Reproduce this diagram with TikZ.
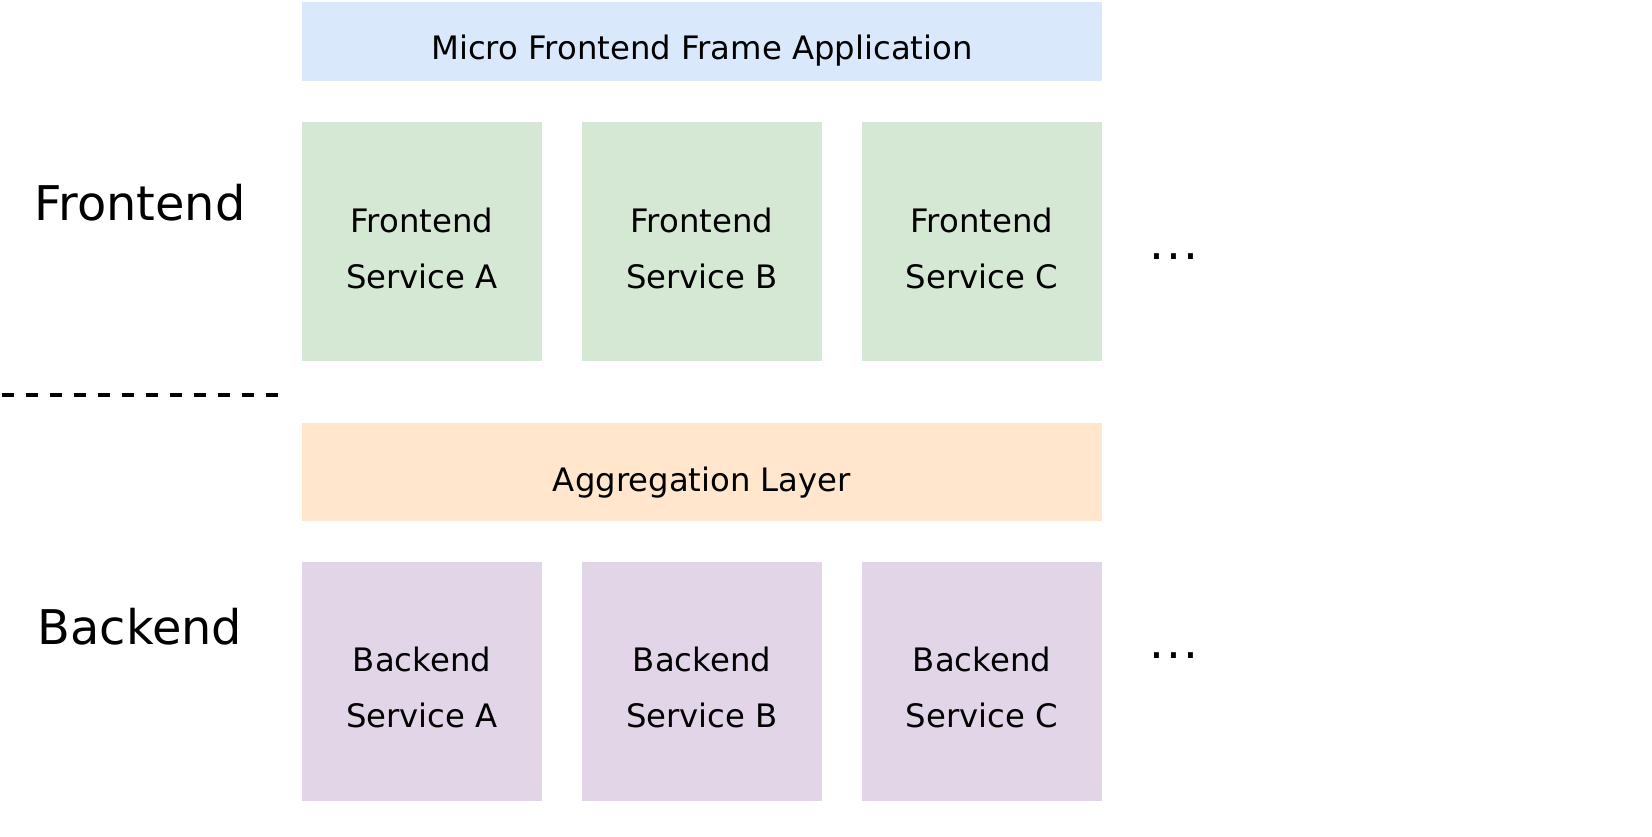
\documentclass[tikz,border=0pt]{standalone}
\usepackage{fontspec}
\setmainfont{DejaVu Sans}
\definecolor{cblue}{HTML}{DAE8FC}
\definecolor{cgreen}{HTML}{D5E8D4}
\definecolor{corange}{HTML}{FFE6CC}
\definecolor{cpurple}{HTML}{E1D5E7}
\begin{document}
\begin{tikzpicture}[x=1pt,y=-1pt,
  boxbase/.style={inner sep=0pt, draw=none},
  wide/.style={boxbase, minimum width=800pt},
  svc/.style={boxbase, minimum width=240pt, minimum height=239pt},
  boxtext/.style={inner sep=0pt, anchor=base, align=center, text=black,
    font=\fontsize{32.3}{56}\selectfont},
  bigl/.style={inner sep=0pt, anchor=base, font=\fontsize{47.8}{56}\selectfont},
  dotsl/.style={inner sep=0pt, font=\fontsize{47}{56}\selectfont}
]
\useasboundingbox (0,0) rectangle (1652,836);
\fill[white] (0,0) rectangle (1652,836);

\node[wide, fill=cblue, minimum height=79pt] (frame) at (702,41.5) {};
\node[boxtext] (frametxt) at (702,59.8) {Micro Frontend Frame Application};

\node[svc, fill=cgreen] (fa) at (422,241.5) {};
\node[svc, fill=cgreen] (fb) at (702,241.5) {};
\node[svc, fill=cgreen] (fc) at (982,241.5) {};
\node[boxtext] (fatxt) at (422,288.3) {Frontend\\Service A};
\node[boxtext] (fbtxt) at (702,288.3) {Frontend\\Service B};
\node[boxtext] (fctxt) at (982,288.3) {Frontend\\Service C};

\node[wide, fill=corange, minimum height=98pt] (agg) at (702,471.5) {};
\node[boxtext] (aggtxt) at (702,491.7) {Aggregation Layer};

\node[svc, fill=cpurple] (ba) at (422,681.2) {};
\node[svc, fill=cpurple] (bb) at (702,681.2) {};
\node[svc, fill=cpurple] (bc) at (982,681.2) {};
\node[boxtext] (batxt) at (422,727.8) {Backend\\Service A};
\node[boxtext] (bbtxt) at (702,727.8) {Backend\\Service B};
\node[boxtext] (bctxt) at (982,727.8) {Backend\\Service C};

\node[bigl] (flabel) at (140,220) {Frontend};
\node[bigl] (blabel) at (140,644) {Backend};

\node[dotsl] (fdots) at (1174,257) {.\kern2.5pt.\kern2.5pt.};
\node[dotsl] (bdots) at (1174,656) {.\kern2.5pt.\kern2.5pt.};

\coordinate (dl) at (1.7,395);
\coordinate (dr) at (278,395);
\draw[line width=4pt, dash pattern=on 12pt off 12pt] (dl) -- (dr);
\end{tikzpicture}
\end{document}
